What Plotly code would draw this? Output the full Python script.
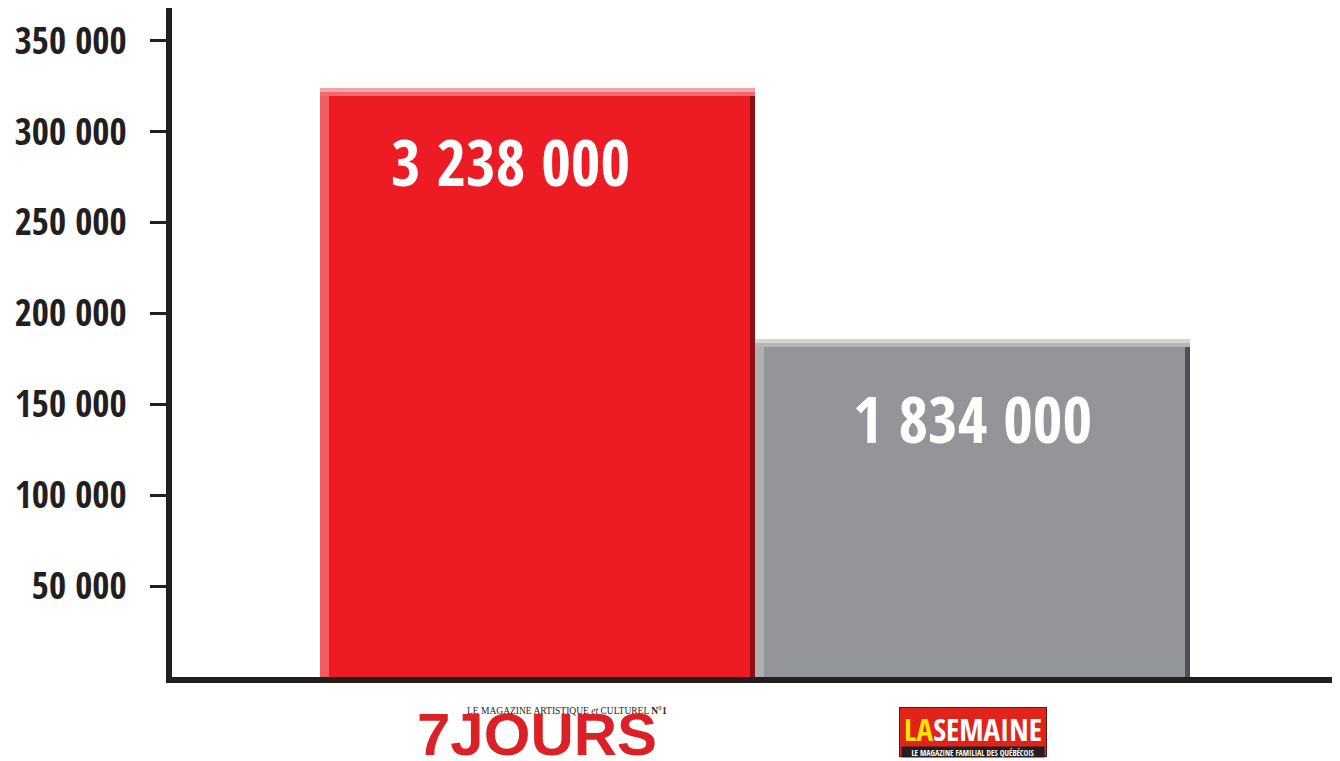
import plotly.graph_objects as go

# data
magazines = ['7 JOURS', 'LA SEMAINE']
lecteurs = [323800, 185900]
etiquettes = ['3 238 000', '1 834 000']
couleurs = ['#ED1C24', '#939598']
reflet_haut = ['#F5A3A6', '#D2D3D4']
reflet_haut2 = ['#F06A6F', '#B5B6B8']
bord_gauche = ['#F25C61', '#AEB0B2']
bord_droit = ['#8E1015', '#4F5052']
tick_vals = [50000, 100000, 150000, 200000, 250000, 300000, 350000]
tick_text = ['50 000', '100 000', '150 000', '200 000', '250 000', '300 000', '350 000']

cond = 'Open Sans Condensed, Roboto Condensed, DejaVu Sans Condensed, sans-serif'

fig = go.Figure()
fig.add_trace(go.Bar(x=magazines, y=lecteurs, marker=dict(color=couleurs, line=dict(width=0)),
                     width=1, hoverinfo='skip'))
# bevel look: light left edge, dark right edge, light top
fig.add_trace(go.Bar(x=magazines, y=lecteurs, marker=dict(color=bord_gauche, line=dict(width=0)),
                     width=0.02, offset=-0.5, hoverinfo='skip'))
fig.add_trace(go.Bar(x=magazines, y=lecteurs, marker=dict(color=bord_droit, line=dict(width=0)),
                     width=0.012, offset=0.488, hoverinfo='skip'))
bande = 4400
fig.add_trace(go.Bar(x=magazines, y=[bande] * 2, base=[v - bande for v in lecteurs],
                     marker=dict(color=reflet_haut2, line=dict(width=0)),
                     width=1, hoverinfo='skip'))
fig.add_trace(go.Bar(x=magazines, y=[bande / 2] * 2, base=[v - bande / 2 for v in lecteurs],
                     marker=dict(color=reflet_haut, line=dict(width=0)),
                     width=1, hoverinfo='skip'))

# big white value labels inside the bars
shifts = [(-27, -28), (0, -34)]
for (m, v, t), (dx, dy) in zip(zip(magazines, lecteurs, etiquettes), shifts):
    fig.add_annotation(x=m, y=v, text='<b>' + t + '</b>', showarrow=False,
                       yanchor='top', yshift=dy, xshift=dx,
                       font=dict(family=cond, size=64, color='white'))

# logos under the axis
fig.add_annotation(x=magazines[0], y=0, text='<b>7JOURS</b>', showarrow=False,
                   yanchor='top', yshift=-22,
                   font=dict(family='Liberation Sans, Arial, sans-serif', size=60, color='#DA2128'))
fig.add_annotation(x=magazines[0], y=0,
                   text='LE MAGAZINE ARTISTIQUE <i>et</i> CULTUREL <b>N°1</b>', showarrow=False,
                   yanchor='top', yshift=-27, xshift=30,
                   font=dict(family='Liberation Serif, serif', size=9.5, color='#231F20'))
fig.add_annotation(x=magazines[1], y=0,
                   text='<b><span style="color:#FFE600">LA</span>SEMAINE</b>', showarrow=False,
                   yanchor='top', yshift=-30, valign='top', bgcolor='#E2231A',
                   bordercolor='#5A1A1A', borderwidth=1, borderpad=0,
                   width=146, height=48,
                   font=dict(family=cond, size=31, color='white'))
fig.add_annotation(x=magazines[1], y=0,
                   text='<b>LE MAGAZINE FAMILIAL DES QUÉBÉCOIS</b>', showarrow=False,
                   yanchor='top', yshift=-69, bgcolor='#231F20', borderpad=0,
                   width=142, height=10,
                   font=dict(family=cond, size=8, color='white'))

fig.update_layout(
    width=1340, height=761,
    margin=dict(l=164, r=0, t=0, b=92),
    paper_bgcolor='white', plot_bgcolor='white',
    barmode='overlay', bargap=0, showlegend=False,
)
fig.update_xaxes(range=[-0.84, 1.863], showticklabels=False, ticks='', showgrid=False,
                 showline=True, linecolor='#231F20', linewidth=6, zeroline=False)
fig.update_yaxes(range=[0, 368000], tickvals=tick_vals, ticktext=tick_text, automargin=False,
                 ticks='outside', ticklen=16, tickwidth=3, tickcolor='#231F20',
                 ticklabelstandoff=16, showgrid=False, zeroline=False,
                 showline=True, linecolor='#231F20', linewidth=6,
                 tickfont=dict(family=cond, size=37, color='#231F20', weight='bold'))

fig.write_html('out.html')
